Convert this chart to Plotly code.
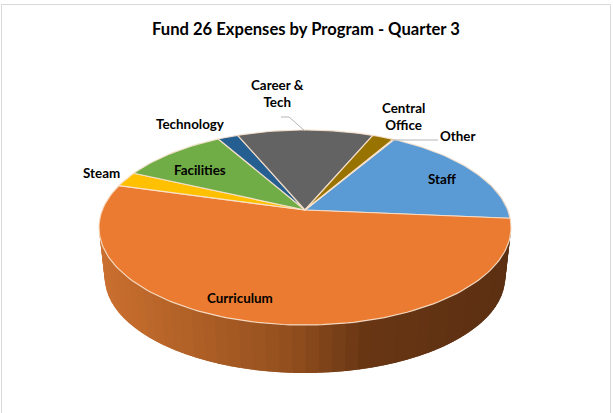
import math
import plotly.graph_objects as go

# ---- data (share of total, %) ----
categories = ["Staff", "Curriculum", "Steam", "Facilities", "Technology",
              "Career & Tech", "Central Office", "Other"]
values = [17.9, 53.0, 2.5, 9.9, 1.9, 12.7, 2.0, 0.1]
colors = ["#5B9BD5", "#EB7B30", "#FFC000", "#70AD47", "#255E91",
          "#636363", "#997300", "#C9B26A"]
title_text = "Fund 26 Expenses by Program - Quarter 3"

# ---- projection of the tilted disc onto the page ----
START_DEG = 30.5
CX, CY = 305.0, 210.0
A, B, K = 202.7, 94.4, -0.1795
RIM_MID_Y = 227.5
WALL_SCALE_X, WALL_SCALE_Y, WALL_MID_Y = 0.972, 0.98, 277.5


def rim(deg):
    t = math.radians(deg)
    u, v = math.sin(t), math.cos(t)
    d = 1 - K * v
    return CX + A * u / d, CY - B * v / d


def floor(deg):
    x, y = rim(deg)
    return CX + (x - CX) * WALL_SCALE_X, WALL_MID_Y + (y - RIM_MID_Y) * WALL_SCALE_Y


def wall_colour(f):
    # f: 0 at the left of the wall, 1 at the right
    stops = [(0.0, (203, 112, 48)), (0.25, (176, 96, 38)), (0.5, (146, 78, 30)),
             (0.68, (104, 54, 20)), (1.0, (92, 48, 18))]
    for (a, ca), (b, cb) in zip(stops, stops[1:]):
        if f <= b:
            s = (f - a) / (b - a)
            return "rgb(%d,%d,%d)" % tuple(round(p + (q - p) * s) for p, q in zip(ca, cb))
    return "rgb(92,48,18)"


fig = go.Figure()

# side wall: narrow bands painted left to right, each overlapping the next
N = 70
LO, HI = 70.0, 290.0
for i in range(N - 1, -1, -1):
    d0 = LO + (HI - LO) * i / N
    d1 = LO + (HI - LO) * (i + 1) / N + 3.0
    d1 = min(d1, HI)
    m = LO + (HI - LO) * (i + 0.5) / N
    pts_top = [rim(d0), rim((d0 + d1) / 2), rim(d1)]
    pts_bot = [floor(d1), floor((d0 + d1) / 2), floor(d0)]
    poly = pts_top + pts_bot + [pts_top[0]]
    col = wall_colour(min(1, max(0, (rim(m)[0] - 100) / 410)))
    fig.add_trace(go.Scatter(
        x=[p[0] for p in poly], y=[p[1] for p in poly],
        mode="lines", fill="toself", fillcolor=col,
        line=dict(color=col, width=0), hoverinfo="skip", showlegend=False))

# top face slices, from the values
total = sum(values)
angle = START_DEG
for name, val, col in zip(categories, values, colors):
    sweep = 360.0 * val / total
    steps = max(2, int(sweep / 1.5))
    pts = [rim(angle + sweep * j / steps) for j in range(steps + 1)]
    xs = [CX] + [p[0] for p in pts] + [CX]
    ys = [CY] + [p[1] for p in pts] + [CY]
    fig.add_trace(go.Scatter(
        x=xs, y=ys, mode="lines", fill="toself", fillcolor=col,
        line=dict(color="rgba(248,226,205,0.9)", width=1.2),
        name=name, hoverinfo="name", showlegend=False))
    angle += sweep

# labels
label_pos = {
    "Staff": (442, 179), "Curriculum": (240, 298), "Steam": (101, 173),
    "Facilities": (200, 170), "Technology": (190, 124),
    "Career & Tech": (277, 93), "Central Office": (403, 116), "Other": (458, 136),
}
label_text = {"Career & Tech": "Career &<br>Tech", "Central Office": "Central<br>Office"}
FONT = "Lato, Carlito, sans-serif"
annotations = [
    dict(x=label_pos[c][0], y=label_pos[c][1], xref="x", yref="y",
         text="<b>%s</b>" % label_text.get(c, c), showarrow=False,
         font=dict(family=FONT, size=13.4, color="#000000"))
    for c in categories
]
annotations.append(dict(x=305.5, y=29, xref="x", yref="y",
                        text="<b>%s</b>" % title_text, showarrow=False,
                        font=dict(family=FONT, size=16.6, color="#000000")))

leader = dict(color="#B5B5B5", width=1)
shapes = [
    dict(type="path", path="M 281 117 L 289 117 L 305 131", line=leader, xref="x", yref="y", layer="above"),
    dict(type="line", x0=392, y0=140, x1=438, y1=140, line=leader, xref="x", yref="y", layer="above"),
    dict(type="path", path="M 1.5 420 L 1.5 4.5 L 610.5 4.5 L 610.5 420",
         line=dict(color="#D9D9D9", width=1), xref="x", yref="y", layer="below"),
]

fig.update_layout(
    width=613, height=413, margin=dict(l=0, r=0, t=0, b=0),
    paper_bgcolor="white", plot_bgcolor="white", showlegend=False,
    xaxis=dict(range=[0, 613], visible=False, fixedrange=True),
    yaxis=dict(range=[413, 0], visible=False, fixedrange=True),
    annotations=annotations, shapes=shapes,
)
fig.write_html("out.html", config={"displayModeBar": False},
               post_script="document.body.style.margin='0';document.body.style.overflow='hidden';")
